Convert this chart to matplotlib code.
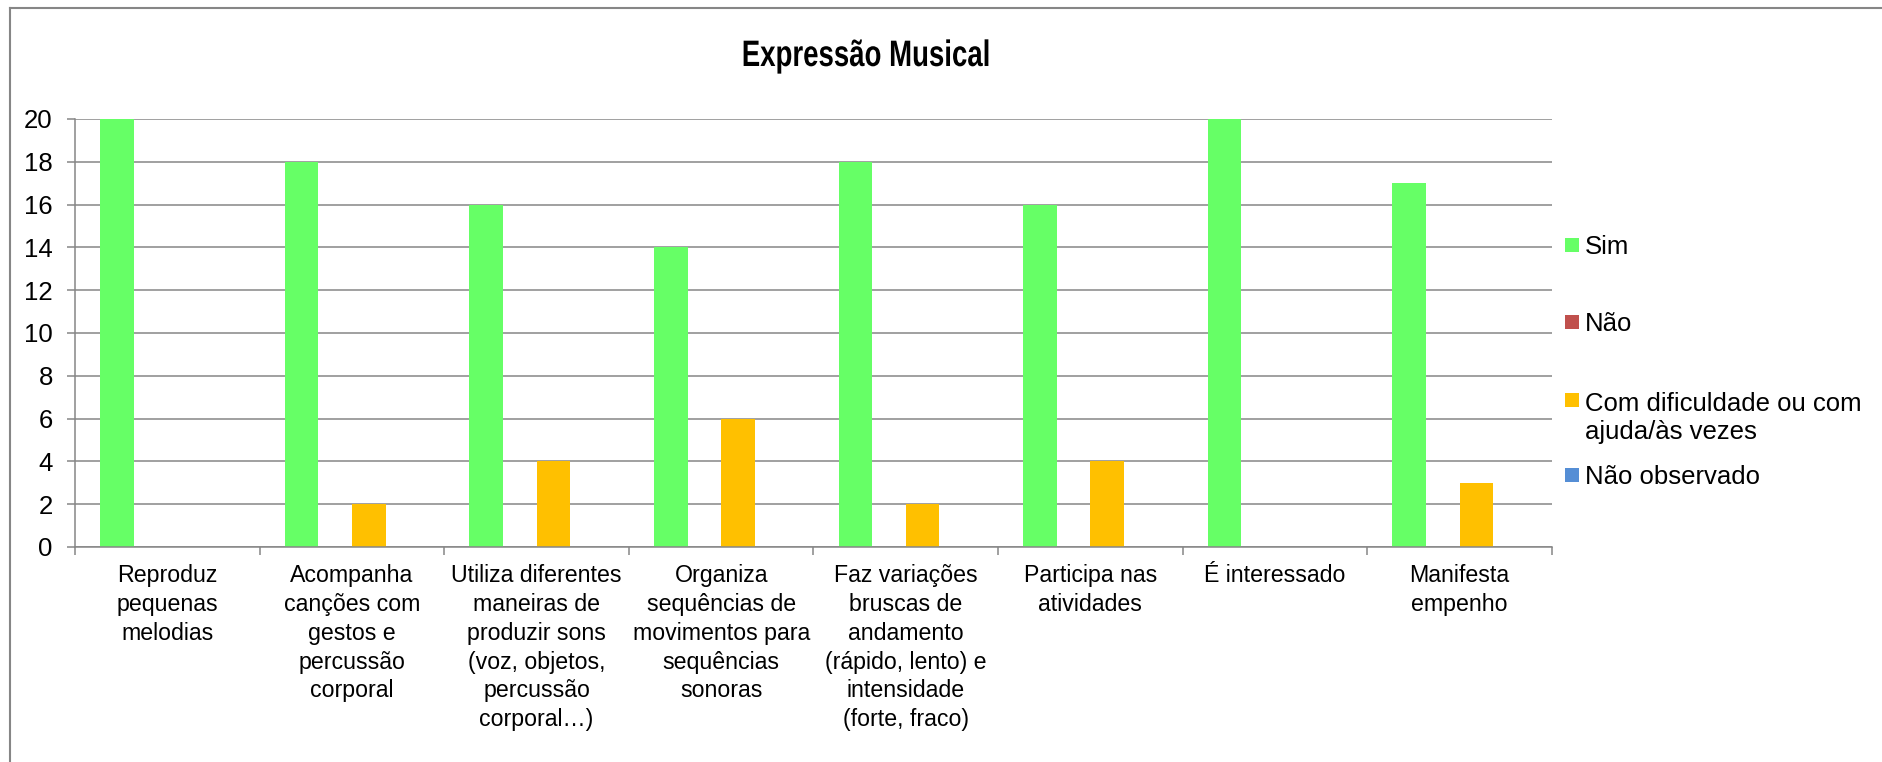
import matplotlib
matplotlib.use("Agg")
import matplotlib.pyplot as plt
from matplotlib import font_manager
from matplotlib.patches import Rectangle
from matplotlib.lines import Line2D
from matplotlib.patheffects import AbstractPathEffect
from matplotlib.transforms import Affine2D
import numpy as np

# --- data -------------------------------------------------------------
categories = [
    "Reproduz\npequenas\nmelodias",
    "Acompanha\ncanções com\ngestos e\npercussão\ncorporal",
    "Utiliza diferentes\nmaneiras de\nproduzir sons\n(voz, objetos,\npercussão\ncorporal…)",
    "Organiza\nsequências de\nmovimentos para\nsequências\nsonoras",
    "Faz variações\nbruscas de\nandamento\n(rápido, lento) e\nintensidade\n(forte, fraco)",
    "Participa nas\natividades",
    "É interessado",
    "Manifesta\nempenho",
]
series_names = ["Sim", "Não", "Com dificuldade ou com\najuda/às vezes", "Não observado"]
sim = [20, 18, 16, 14, 18, 16, 20, 17]
nao = [0, 0, 0, 0, 0, 0, 0, 0]
com_dificuldade = [0, 2, 4, 6, 2, 4, 0, 3]
nao_observado = [0, 0, 0, 0, 0, 0, 0, 0]
y_ticks = [0, 2, 4, 6, 8, 10, 12, 14, 16, 18, 20]
title = "Expressão Musical"

colors = ["#66FF66", "#C0504D", "#FFC000", "#558ED5"]

# --- fonts ------------------------------------------------------------
available = {f.name for f in font_manager.fontManager.ttflist}
base_font = "Liberation Sans" if "Liberation Sans" in available else "DejaVu Sans"
plt.rcParams["font.family"] = [base_font, "DejaVu Sans"]

W, H, DPI = 1883, 762, 100
fig = plt.figure(figsize=(W / DPI, H / DPI), dpi=DPI, facecolor="white")

def fx(px):
    return px / W

def fy(py):
    return 1 - py / H


class Condense(AbstractPathEffect):
    """Squeeze glyphs horizontally about a fixed x (display pixels)."""

    def __init__(self, sx, cx):
        super().__init__()
        self.sx = sx
        self.cx = cx

    def draw_path(self, renderer, gc, tpath, affine, rgbFace=None):
        squeeze = Affine2D().translate(-self.cx, 0).scale(self.sx, 1).translate(self.cx, 0)
        renderer.draw_path(gc, tpath, affine + squeeze, rgbFace)


# plot area
left, right, top, bottom = 75, 1552, 119, 547
ax = fig.add_axes([fx(left), fy(bottom), fx(right - left), (bottom - top) / H])

gray = "#868686"
n = len(categories)
x = np.arange(n)
bw = 0.182
all_series = [sim, nao, com_dificuldade, nao_observado]
for k, (vals, c) in enumerate(zip(all_series, colors)):
    ax.bar(x + (k - 1.5) * bw, vals, width=bw, color=c, zorder=3, linewidth=0)

ax.set_xlim(-0.5, n - 0.5)
ax.set_ylim(0, 20)
ax.set_yticks(y_ticks)
ax.yaxis.grid(True, color=gray, linewidth=1.1, zorder=0)
ax.set_axisbelow(True)

for s in ("top", "right"):
    ax.spines[s].set_visible(False)
for s in ("left", "bottom"):
    ax.spines[s].set_color(gray)
    ax.spines[s].set_linewidth(1.1)
    ax.spines[s].set_zorder(4)

ax.tick_params(axis="y", direction="out", length=6, width=1.1, color=gray,
               labelsize=18.5, pad=10, labelcolor="black")
ax.set_xticks(x)
ax.set_xticklabels(categories, fontsize=16.7, linespacing=1.32)
ax.tick_params(axis="x", which="major", length=0, pad=12.5)
ax.set_xticks(np.arange(-0.5, n, 1.0), minor=True)
ax.tick_params(axis="x", which="minor", direction="out", length=6, width=1.1, color=gray)

# chart frame (top and left edges)
fig.add_artist(Line2D([fx(10), fx(10)], [fy(8), 0], color=gray, linewidth=1.5))
fig.add_artist(Line2D([fx(10), 1], [fy(8), fy(8)], color=gray, linewidth=1.5))

# title, narrow bold face
title_cx = 866
fig.text(fx(title_cx), fy(66), title, ha="center", va="baseline",
         fontsize=26.5, fontweight="bold",
         path_effects=[Condense(0.75, title_cx)])

# legend
legend_rows = [245, 322, 400, 475]
legend_step = 30
for name, c, cy in zip(series_names, colors, legend_rows):
    fig.add_artist(Rectangle((fx(1565), fy(cy + 7)), fx(14), 14 / H,
                             facecolor=c, edgecolor="none"))
    extra = name.count("\n") * legend_step
    fig.text(fx(1585), fy(cy + 9 + extra), name, ha="left", va="baseline",
             fontsize=18.5, linespacing=1.22)

fig.savefig("out.png", dpi=DPI, facecolor="white")
